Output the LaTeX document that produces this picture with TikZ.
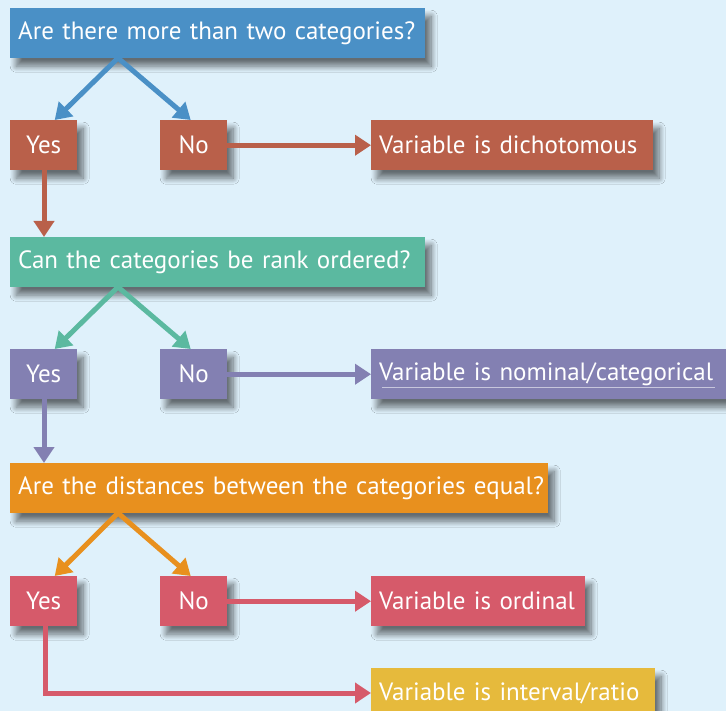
\documentclass[tikz,border=0pt]{standalone}
\usepackage{fontspec}
\setmainfont{PT Sans}
\usetikzlibrary{arrows.meta,shadows.blur}

\definecolor{slidebg}{HTML}{DFF1FB}
\definecolor{qblue}{HTML}{4A90C6}
\definecolor{rust}{HTML}{B9604A}
\definecolor{teal}{HTML}{5BB9A0}
\definecolor{lilac}{HTML}{8380B2}
\definecolor{amber}{HTML}{E8901E}
\definecolor{rose}{HTML}{D65A6A}
\definecolor{mustard}{HTML}{E6BA3C}

\begin{document}
\begin{tikzpicture}[x=1pt,y=-1pt]
  \tikzset{flow box/.style={fill=#1,text=white,anchor=north west,inner sep=0pt,
             minimum height=50pt,font=\fontsize{25}{29}\selectfont,
             blur shadow={shadow xshift=6pt,shadow yshift=-8pt,shadow blur radius=6pt,shadow blur steps=12,shadow opacity=55}},
           ask box/.style 2 args={flow box=#1,minimum width=#2,text width=#2-16pt,inner xsep=8pt,align=left},
           yn box/.style={flow box=#1,minimum width=67pt},
           flow arrow/.style={draw=#1,line width=5pt,-{Triangle[width=20pt,length=16pt]}}}

  \fill[slidebg] (0,0) rectangle (726,711);
  \useasboundingbox (0,0) rectangle (726,711);

  % first question
  \node [ask box={qblue}{415pt}] (q1) at (10,8) {Are there more than two categories?};
  \node [yn box=rust] (yes1) at (10,120) {Yes};
  \node [yn box=rust] (no1) at (160,120) {No};
  \node [ask box={rust}{282pt}] (res1) at (371,120) {Variable is dichotomous};

  % second question
  \node [ask box={teal}{415pt}] (q2) at (10,237) {Can the categories be rank ordered?};
  \node [yn box=lilac] (yes2) at (10,349) {Yes};
  \node [yn box=lilac] (no2) at (160,349) {No};
  \node [ask box={lilac}{355pt}] (res2) at (371,349) {Variable is nominal/categorical};

  % third question
  \node [ask box={amber}{538pt}] (q3) at (10,463) {\mbox{Are the distances between the categories equal?}};
  \node [yn box=rose] (yes3) at (10,576) {Yes};
  \node [yn box=rose] (no3) at (160,576) {No};
  \node [ask box={rose}{214pt}] (res3) at (371,576) {Variable is ordinal};
  \node [ask box={mustard}{284pt}] (res4) at (371,668) {Variable is interval/ratio};

  \draw[lilac!45!white,line width=0.8pt] ([shift={(11,-12)}]res2.south west) -- ([shift={(-11,-12)}]res2.south east);

  \coordinate (q1fork) at (118,58);
  \coordinate (q2fork) at (118,287);
  \coordinate (q3fork) at (118,513);
  \coordinate (bend) at (45,693);

  \draw[flow arrow=qblue] (q1fork) -- ([xshift=11pt]yes1.north);
  \draw[flow arrow=qblue] (q1fork) -- ([xshift=-3pt]no1.north);
  \draw[flow arrow=rust] (no1) -- (res1);
  \draw[flow arrow=rust] (yes1.south -| 44,0) -- (q2.north -| 44,0);

  \draw[flow arrow=teal] (q2fork) -- ([xshift=11pt]yes2.north);
  \draw[flow arrow=teal] (q2fork) -- ([xshift=-3pt]no2.north);
  \draw[flow arrow=lilac] (no2) -- (res2);
  \draw[flow arrow=lilac] (yes2.south -| 44,0) -- (q3.north -| 44,0);

  \draw[flow arrow=amber] (q3fork) -- ([xshift=11pt]yes3.north);
  \draw[flow arrow=amber] (q3fork) -- ([xshift=-3pt]no3.north);
  \draw[flow arrow=rose] (no3) -- (res3);
  \draw[flow arrow=rose] (yes3.south -| bend) -- (bend) -- (bend -| res4.west);
\end{tikzpicture}
\end{document}
